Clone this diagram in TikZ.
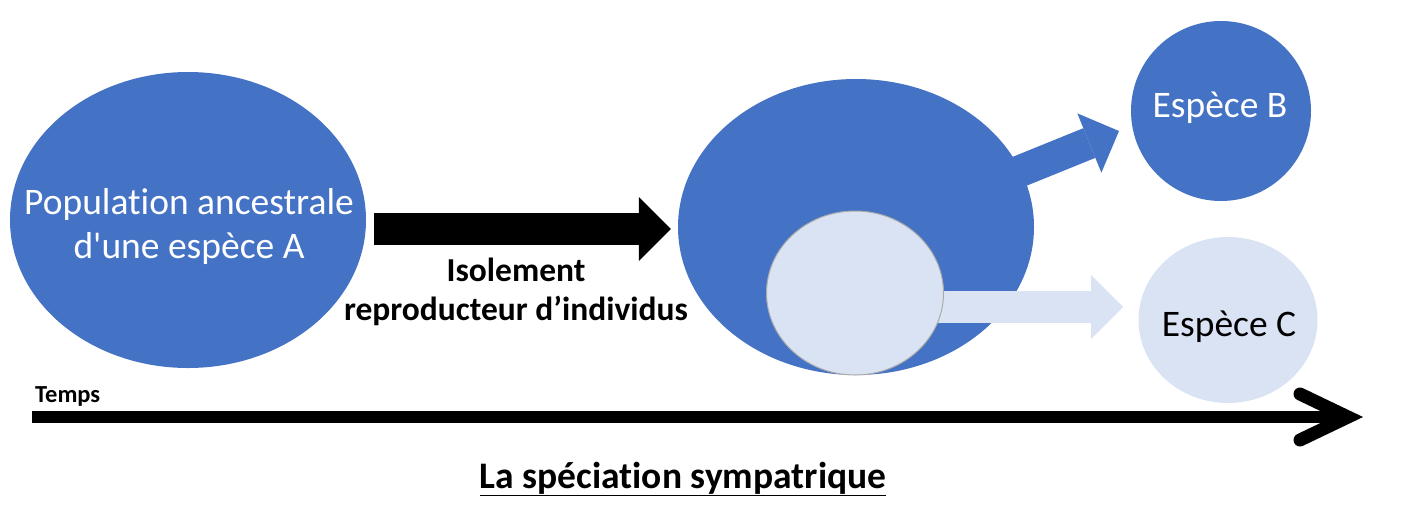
\documentclass[tikz,border=0pt]{standalone}
\usepackage{fontspec}
\setmainfont{Carlito}[Ligatures={TeXOff,NoCommon}]
\usetikzlibrary{shapes.geometric,arrows.meta,calc}
\definecolor{blueA}{HTML}{4472C4}
\definecolor{lightA}{HTML}{DAE3F3}
\definecolor{rimA}{HTML}{AAAAAA}
\begin{document}
\begin{tikzpicture}[x=1pt,y=-1pt,
  blob/.style={ellipse,inner sep=0pt,fill=blueA,draw=none},
  lightblob/.style={ellipse,inner sep=0pt,fill=lightA,draw=rimA,line width=1pt},
  bigtext/.style={font=\fontsize{37.5}{44}\selectfont,align=center,inner sep=0pt},
  blockarrow/.style={line width=32pt,-{Triangle[length=32pt,width=64pt,line width=0pt]}},
  timeline/.style={line width=12pt,line cap=butt},
  timehead/.style={line width=13pt,line cap=round,line join=miter}]
\useasboundingbox (0,0) rectangle (1421,520);

% ancestral population
\node[blob,minimum width=356pt,minimum height=296pt] (A) at (188,220) {};
\node[bigtext,text=white] (Atext) at (189,226) {Population ancestrale\\d'une espèce A};

% main arrow
\node[blob,minimum width=356pt,minimum height=296pt] (M) at (856,227) {};
\draw[blockarrow,draw=black] ($(A.east)+(8,9)$) -- ($(M.west)+(-7,2)$);
\node[font=\bfseries\fontsize{33.5}{39}\selectfont,align=center,inner sep=0pt] (iso) at (516,292) {Isolement\\reproducteur d’individus};

% species B and C
\node[circle,inner sep=0pt,fill=blueA,minimum size=180pt] (B) at (1221,111) {};
\node[bigtext,text=white] (Btext) at (1220,108) {Espèce B};
\node[ellipse,inner sep=0pt,fill=lightA,minimum width=179pt,minimum height=166pt] (C) at (1228,320) {};
\node[bigtext,text=black] (Ctext) at (1229,327) {Espèce C};

% arrows out of the middle population
\draw[blockarrow,draw=blueA] ($(M.center)+(78,-21)$) -- ($(B.center)+(-102,20)$);
\draw[blockarrow,draw=lightA] (855,307) -- ($(C.center)+(-105,-13)$);
\node[lightblob,minimum width=177pt,minimum height=164pt] (I) at (855,293) {};

% time axis
\coordinate (T0) at (32,417);
\coordinate (T1) at (1348,417);
\draw[timeline] (T0) -- ($(T1)+(-4,0)$);
\draw[timehead] ($(T1)+(-48,-23)$) -- (T1) -- ($(T1)+(-48,23)$);
\node[font=\bfseries\fontsize{24.5}{28}\selectfont,anchor=base west,inner sep=0pt] (temps) at (35,402) {Temps};

% title
\node[font=\bfseries\fontsize{37.5}{44}\selectfont,anchor=base,inner sep=0pt] (title) at (683,488) {\underline{La spéciation sympatrique}};
\end{tikzpicture}
\end{document}
